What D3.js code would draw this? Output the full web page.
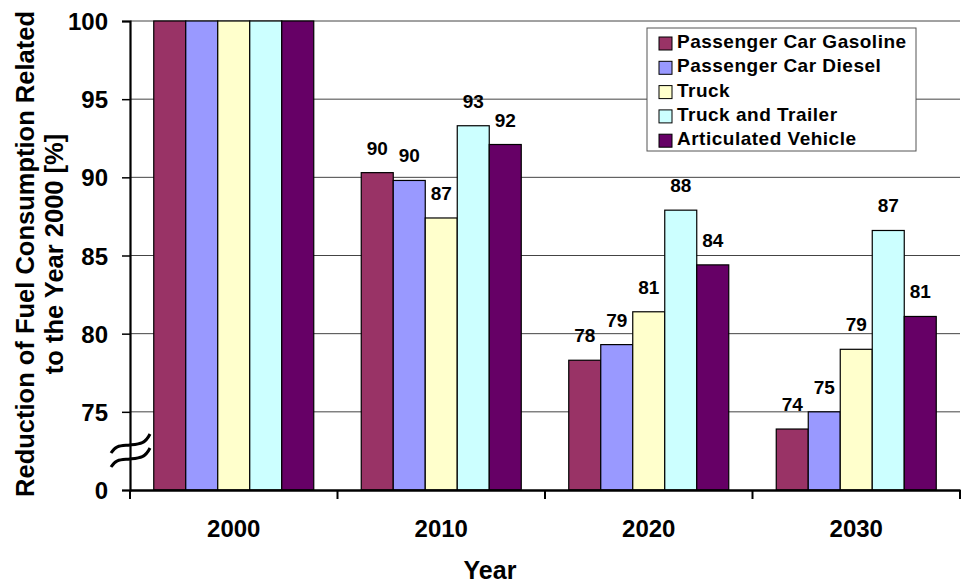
<!DOCTYPE html>
<html><head><meta charset="utf-8">
<script src="https://cdn.jsdelivr.net/npm/d3@7/dist/d3.min.js"></script>
<style>body{margin:0;background:#fff}svg{display:block}text{font-family:"Liberation Sans",Arial,sans-serif;font-weight:bold}</style>
</head><body><svg id="c" width="965" height="586"></svg>
<script>
const years = ["2000","2010","2020","2030"];
const seriesNames = ["Passenger Car Gasoline","Passenger Car Diesel","Truck","Truck and Trailer","Articulated Vehicle"];
const gasoline = [100, 90.3, 78.3, 73.9];
const diesel = [100, 89.8, 79.3, 75.0];
const truck = [100, 87.4, 81.4, 79.0];
const trailer = [100, 93.3, 87.9, 86.6];
const articulated = [100, 92.1, 84.4, 81.1];
const colors = ["#993366","#9999FF","#FFFFCC","#CCFFFF","#660066"];
const yTicks = [70,75,80,85,90,95,100];
const yTickLabels = ["0","75","80","85","90","95","100"];

const series = [gasoline, diesel, truck, trailer, articulated];
const svg = d3.select("#c");
const x0 = d3.scaleBand().domain(years).range([130,960]).paddingInner(0).paddingOuter(0);
const inner = 160/207.5;
const x1 = d3.scaleBand().domain(d3.range(5)).range([0, x0.bandwidth()*inner]);
const off = x0.bandwidth()*(1-inner)/2;
const y = d3.scaleLinear().domain([70,100]).range([490,21]);

// gridlines
svg.append("g").selectAll("line").data(yTicks.filter(d=>d>70)).join("line")
  .attr("x1",130).attr("x2",960).attr("y1",d=>y(d)).attr("y2",d=>y(d))
  .attr("stroke","#444").attr("stroke-width",1);

// bars
years.forEach((yr,i)=>{
  const g = svg.append("g").attr("transform",`translate(${x0(yr)+off},0)`);
  series.forEach((s,j)=>{
    g.append("rect").attr("x",x1(j)).attr("width",x1.bandwidth())
      .attr("y",y(s[i])).attr("height",y(70)-y(s[i]))
      .attr("fill",colors[j]).attr("stroke","#000").attr("stroke-width",1.2);
    if(i>0){
      g.append("text").attr("x",x1(j)+x1.bandwidth()/2).attr("y",y(s[i])-18)
        .attr("text-anchor","middle").attr("font-size",19).text(Math.round(s[i]));
    }
  });
});

// y axis
const ya = d3.axisLeft(y).tickValues(yTicks).tickFormat((d,i)=>yTickLabels[i]).tickSizeOuter(0).tickSize(8).tickPadding(14);
const yg = svg.append("g").attr("transform","translate(130,0)").call(ya);
yg.select(".domain").attr("stroke-width",2.2);
yg.selectAll(".tick line").attr("stroke-width",1.5);
yg.selectAll("text").attr("font-size",24).attr("font-family","Liberation Sans, Arial").attr("font-weight","bold").attr("fill","#000").attr("dy","0.36em");

// x axis
const xa = d3.axisBottom(x0).tickSize(0).tickPadding(30);
const xg = svg.append("g").attr("transform","translate(0,490)").call(xa);
xg.select(".domain").attr("stroke-width",2.5);
xg.selectAll("text").attr("font-size",24).attr("font-family","Liberation Sans, Arial").attr("font-weight","bold").attr("fill","#000").attr("dy","0.71em");
svg.append("g").selectAll("line").data(years.map(d=>x0(d)).concat([960])).join("line")
  .attr("x1",d=>d).attr("x2",d=>d).attr("y1",490).attr("y2",499).attr("stroke","#000").attr("stroke-width",2);

// break symbol
[0,14].forEach(dy=>{
  svg.append("path").attr("d",`M111,${453+dy} C116,${445+dy} 120,${446+dy} 130,${445+dy} S145,${444+dy} 150,${434+dy}`)
   .attr("fill","none").attr("stroke","#000").attr("stroke-width",3);
});

// axis titles
svg.append("text").attr("x",490).attr("y",579).attr("text-anchor","middle").attr("font-size",25).text("Year");
const yt = svg.append("text").attr("transform","translate(0,254) rotate(-90)").attr("text-anchor","middle").attr("font-size",25.5);
yt.append("tspan").attr("x",0).attr("y",34).text("Reduction of Fuel Consumption Related");
yt.append("tspan").attr("x",0).attr("y",63).text("to the Year 2000 [%]");

// legend
const lg = svg.append("g").attr("transform","translate(647,28)");
lg.append("rect").attr("width",269).attr("height",123).attr("fill","#fff").attr("stroke","#555").attr("stroke-width",1);
seriesNames.forEach((n,i)=>{
  lg.append("rect").attr("x",12).attr("y",9+i*24.3).attr("width",13).attr("height",13)
    .attr("fill",colors[i]).attr("stroke","#000").attr("stroke-width",1);
  lg.append("text").attr("x",30).attr("y",20+i*24.3).attr("font-size",19).attr("letter-spacing","0.5px").text(n);
});
</script></body></html>
